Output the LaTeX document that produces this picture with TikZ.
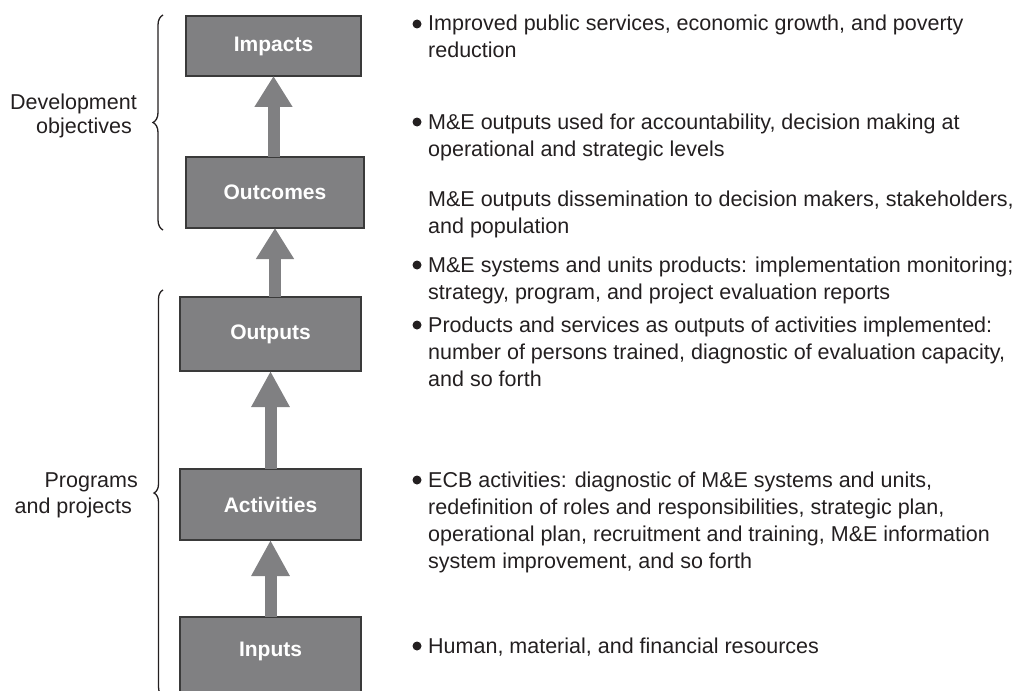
\documentclass[tikz,border=0pt]{standalone}
\usepackage{fontspec}
\setmainfont{Liberation Sans}
\usetikzlibrary{arrows.meta,decorations.pathreplacing}
\definecolor{boxgray}{HTML}{808082}
\definecolor{edgegray}{HTML}{3A3A3A}
\definecolor{ink}{HTML}{231F20}
\newcommand\itemlines[1]{\vtop{\halign{##\hfil\cr#1\crcr}}}
\tikzset{
  stage/.style={draw=edgegray, line width=1.2pt, fill=boxgray, text=white,
    font=\fontsize{21}{25}\selectfont\bfseries, inner sep=0pt, outer sep=0pt},
  flow/.style={draw=boxgray, line width=12pt, -{Triangle[width=36pt,length=#1]}},
  flow/.default=33pt,
  desc/.style={anchor=base west, text=ink, font=\fontsize{21.5}{27}\selectfont, inner sep=0pt},
  lbl/.style={anchor=base east, text=ink, font=\fontsize{21.5}{27}\selectfont, inner sep=0pt},
  bul/.style={fill=ink},
  grp/.style={draw=ink, line width=1.3pt, decorate, decoration={brace, amplitude=#1}},
  grp/.default=10pt
}
\begin{document}
\begin{tikzpicture}[x=1pt, y=-1pt]
\useasboundingbox (0,0) rectangle (1024,690);
\clip (0,0) rectangle (1024,690);

% stage boxes
\node[stage, minimum width=175pt, minimum height=60pt] (impacts) at (273.5,46) {Impacts};
\node[stage, minimum width=178pt, minimum height=71pt] (outcomes) at (275,192.5) {Outcomes};
\node[stage, minimum width=181pt, minimum height=74pt] (outputs) at (270.5,334) {Outputs};
\node[stage, minimum width=181pt, minimum height=71pt] (activities) at (270.5,504.5) {Activities};
\node[stage, minimum width=181pt, minimum height=83pt] (inputs) at (270.5,658.5) {};
\node[text=white, font=\fontsize{21}{25}\selectfont\bfseries, anchor=center] (inputslbl) at (270.5,651) {Inputs};

% arrows
\draw[flow=31pt] (impacts.south |- outcomes.north) -- (impacts.south);
\draw[flow=31pt] (outcomes.south |- outputs.north) -- (outcomes.south);
\draw[flow=36pt] (activities.north) -- (outputs.south);
\draw[flow=36pt] (inputs.north) -- (activities.south);

% braces
\coordinate (devtop) at (163,15);
\coordinate (devbot) at (163,230);
\coordinate (progtop) at (163,290);
\coordinate (progbot) at (163,696);
\draw[grp=10pt] (devbot) -- (devtop);
\draw[grp=9pt] (progbot) -- (progtop);

% left labels
\node[lbl] (dev1) at (137,110) {Development};
\node[lbl] (dev2) at (132,133) {objectives};
\node[lbl] (prog1) at (138,487) {Programs};
\node[lbl] (prog2) at (132,513) {and projects};

% descriptions
\node[desc] (d1) at (428,31) {\itemlines{Improved public services, economic growth, and poverty\cr reduction}};
\node[desc] (d2) at (428,129) {\itemlines{M\&E outputs used for accountability, decision making at\cr operational and strategic levels}};
\node[desc] (d3) at (428,206) {\itemlines{M\&E outputs dissemination to decision makers, stakeholders,\cr and population}};
\node[desc] (d4) at (428,272) {\itemlines{M\&E systems and units products: implementation monitoring;\cr strategy, program, and project evaluation reports}};
\node[desc] (d5) at (428,332) {\itemlines{Products and services as outputs of activities implemented:\cr number of persons trained, diagnostic of evaluation capacity,\cr and so forth}};
\node[desc] (d6) at (428,487) {\itemlines{ECB activities: diagnostic of M\&E systems and units,\cr redefinition of roles and responsibilities, strategic plan,\cr operational plan, recruitment and training, M\&E information\cr system improvement, and so forth}};
\node[desc] (d7) at (428,653) {Human, material, and financial resources};

% bullets
\foreach \y in {31,129,272,332,487,653}{
  \fill[bul] (417,\y-7) circle (4.5pt);
}
\end{tikzpicture}
\end{document}
